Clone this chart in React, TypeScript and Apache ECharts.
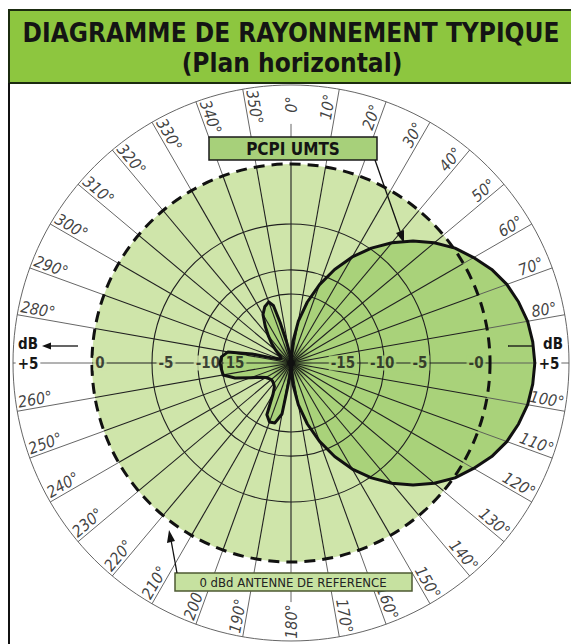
import React, { useEffect, useRef } from "react";
import * as echarts from "echarts";

// ---------- texts ----------
const TITLE_LINE_1 = "DIAGRAMME DE RAYONNEMENT TYPIQUE";
const TITLE_LINE_2 = "(Plan horizontal)";
const PATTERN_NAME = "PCPI UMTS";
const REFERENCE_NAME = "0 dBd ANTENNE DE REFERENCE";

// ---------- radial dB scale of the diagram (dB -> fraction of the outer circle) ----------
const SCALE_DB = [-40, -15, -10, -5, 0, 5];
const SCALE_R = [0, 0.248, 0.335, 0.5, 0.716, 0.928];

// ---------- grid ----------
const GRID_ANGLES = [0, 10, 20, 30, 40, 50, 60, 70, 80, 90, 100, 110, 120, 130, 140, 150, 160, 170,
  180, 190, 200, 210, 220, 230, 240, 250, 260, 270, 280, 290, 300, 310, 320, 330, 340, 350];
const ANGLE_LABELS = [0, 10, 20, 30, 40, 50, 60, 70, 80, 100, 110, 120, 130, 140, 150, 160, 170,
  180, 190, 200, 210, 220, 230, 240, 250, 260, 280, 290, 300, 310, 320, 330, 340, 350];
const GRID_RING_DB = [-15, -10, -5];
const REFERENCE_DB = [0];
const RING_LABEL_LEFT_DB = [0, -5, -10, -15];
const RING_LABEL_LEFT_TEXT = ["0", "-5", "-10", "15"];
const RING_LABEL_RIGHT_DB = [-15, -10, -5, 0];
const RING_LABEL_RIGHT_TEXT = ["-15", "-10", "-5", "-0"];

// ---------- PCPI UMTS horizontal pattern (angle in degrees, level in dB) ----------
const PATTERN_ANGLE = [
  0, 5, 10, 15, 20, 25, 30, 35, 40, 45, 50, 55, 60, 65, 70, 75, 80, 85, 90,
  95, 100, 105, 110, 115, 120, 125, 130, 135, 140, 145, 150, 155, 160, 165, 170, 175, 180,
  185, 190, 195, 200, 205, 210, 215, 220, 225, 230, 235, 240, 245, 250, 255, 260, 265, 270, 275, 280,
  283, 285, 290, 295, 300, 305, 310, 315, 320, 325, 330, 335, 340, 343, 345, 348, 352, 356, 360,
];
const PATTERN_DB = [
  -40, -32.3, -24.6, -17.1, -12.0, -8.9, -6.8, -4.9, -3.5, -2.2, -1.0, 0.1, 1.0, 1.9, 2.6, 3.1, 3.5, 3.7, 3.8,
  3.7, 3.5, 3.1, 2.6, 1.9, 1.0, 0.1, -1.0, -2.2, -3.5, -4.9, -6.8, -8.9, -12.0, -17.1, -24.6, -32.3, -40,
  -34.9, -21.2, -17.5, -17.2, -19.3, -27.0, -29.5, -30.2, -30.6, -30.6, -30.2, -29.5, -27.7, -24.4, -19.0, -15.0, -14.8, -14.6, -14.8, -16.8,
  -25.5, -32.8, -35.7, -36.0, -35.7, -34.6, -32.8, -30.2, -27.3, -23.7, -19.7, -17.5, -16.4, -18.3, -24.8, -32.0, -36.4, -38.6, -40,
];

// layout nudges (px) of the ring labels along the 270°/90° line
const LEFT_LABEL_NUDGE = [8, 14, 10, 13];
const RIGHT_LABEL_NUDGE = [-17, -2, -10, -14];

function toR(db: number): number {
  if (db <= SCALE_DB[0]) return SCALE_R[0];
  for (let i = 1; i < SCALE_DB.length; i++) {
    if (db <= SCALE_DB[i]) {
      const t = (db - SCALE_DB[i - 1]) / (SCALE_DB[i] - SCALE_DB[i - 1]);
      return SCALE_R[i - 1] + t * (SCALE_R[i] - SCALE_R[i - 1]);
    }
  }
  const n = SCALE_DB.length - 1;
  return SCALE_R[n] + ((db - SCALE_DB[n]) * (SCALE_R[n] - SCALE_R[n - 1])) / (SCALE_DB[n] - SCALE_DB[n - 1]);
}

const FONT = '"DejaVu Sans Condensed", "DejaVu Sans", sans-serif';
const DISC_GREEN = "#cfe5aa";
const LOBE_GREEN = "#a9d27a";
const INK = "#161616";

export default function App() {
  const ref = useRef<HTMLDivElement>(null);

  useEffect(() => {
    if (!ref.current) return;
    const chart = echarts.init(ref.current, undefined, { renderer: "svg" });

    const patternData = PATTERN_ANGLE.map((a, i) => [toR(PATTERN_DB[i]), a]);

    const circleItem = (api: any, fill: string, stroke: string, lineWidth: number, lineDash?: number[]) => {
      const c = api.coord([0, 0]);
      const p = api.coord([api.value(0), 0]);
      const r = Math.hypot(p[0] - c[0], p[1] - c[1]);
      return {
        type: "circle",
        shape: { cx: c[0], cy: c[1], r },
        style: { fill, stroke, lineWidth, lineDash },
      };
    };

    const angleLabelData = ANGLE_LABELS.map((a) => {
      const right = a < 180;
      const off = a === 0 || a === 180 ? 0 : right ? -1.9 : 1.9;
      const rot = right ? 90 - a : 270 - a;
      return { name: `${a}°`, value: [0.93, a + off], label: { rotate: rot } };
    });

    const ringLabelLeft = RING_LABEL_LEFT_DB.map((d, i) => ({
      name: RING_LABEL_LEFT_TEXT[i],
      value: [toR(d), 270],
      label: {
        offset: [LEFT_LABEL_NUDGE[i], 0],
        backgroundColor: d <= -15 ? LOBE_GREEN : DISC_GREEN,
      },
    }));
    const ringLabelRight = RING_LABEL_RIGHT_DB.map((d, i) => ({
      name: RING_LABEL_RIGHT_TEXT[i],
      value: [toR(d), 90],
      label: { offset: [RIGHT_LABEL_NUDGE[i], 0] },
    }));

    const ringLabelStyle = (bg: string) => ({
      show: true,
      position: "inside",
      formatter: (p: any) => p.name,
      fontFamily: FONT,
      fontSize: 15,
      fontWeight: "bold",
      color: INK,
      backgroundColor: bg,
      padding: [0, 2],
    });

    const option: any = {
      animation: false,
      polar: { center: [291, 363], radius: 278 },
      angleAxis: {
        type: "value",
        min: 0,
        max: 360,
        startAngle: 90,
        clockwise: true,
        axisLine: { show: true, lineStyle: { color: "#666", width: 1 } },
        axisTick: { show: false },
        axisLabel: { show: false },
        splitLine: { show: false },
      },
      radiusAxis: {
        type: "value",
        min: 0,
        max: 1,
        axisLine: { show: false },
        axisTick: { show: false },
        axisLabel: { show: false },
        splitLine: { show: false },
      },
      series: [
        {
          type: "custom",
          coordinateSystem: "polar",
          silent: true,
          z: 1,
          data: REFERENCE_DB.map((d) => [toR(d), 0]),
          renderItem: (_p: any, api: any) => circleItem(api, DISC_GREEN, "none", 0),
        },
        {
          type: "line",
          coordinateSystem: "polar",
          silent: true,
          z: 2,
          symbol: "none",
          data: patternData,
          lineStyle: { width: 0, opacity: 0 },
          areaStyle: { color: LOBE_GREEN, opacity: 1 },
        },
        {
          type: "custom",
          coordinateSystem: "polar",
          silent: true,
          z: 3,
          data: GRID_ANGLES.map((a) => [1, a]),
          renderItem: (_p: any, api: any) => {
            const a = api.value(1);
            const rIn = toR(0);
            const rEnd = a % 180 === 0 ? 0.86 : 1;
            const c = api.coord([0, a]);
            const m = api.coord([rIn, a]);
            const e = api.coord([rEnd, a]);
            return {
              type: "group",
              children: [
                { type: "line", shape: { x1: c[0], y1: c[1], x2: m[0], y2: m[1] }, style: { stroke: "#202020", lineWidth: 1.1 } },
                { type: "line", shape: { x1: m[0], y1: m[1], x2: e[0], y2: e[1] }, style: { stroke: "#555", lineWidth: 0.9 } },
              ],
            };
          },
        },
        {
          type: "custom",
          coordinateSystem: "polar",
          silent: true,
          z: 3,
          data: GRID_RING_DB.map((d) => [toR(d), 0]),
          renderItem: (_p: any, api: any) => circleItem(api, "none", "#202020", 1.1),
        },
        {
          type: "custom",
          coordinateSystem: "polar",
          silent: true,
          z: 3,
          data: [[0, 0]],
          renderItem: (_p: any, api: any) => {
            const c = api.coord([0, 0]);
            return {
              type: "group",
              children: [
                {
                  type: "circle",
                  shape: { cx: c[0], cy: c[1], r: 22 },
                  style: {
                    fill: {
                      type: "radial", x: 0.5, y: 0.5, r: 0.5,
                      colorStops: [
                        { offset: 0, color: "rgba(20,30,10,0.6)" },
                        { offset: 1, color: "rgba(20,30,10,0)" },
                      ],
                    },
                  },
                },
                { type: "circle", shape: { cx: c[0], cy: c[1], r: 4 }, style: { fill: "#111" } },
              ],
            };
          },
        },
        {
          type: "custom",
          coordinateSystem: "polar",
          silent: true,
          z: 4,
          data: REFERENCE_DB.map((d) => [toR(d), 0]),
          renderItem: (_p: any, api: any) => circleItem(api, "none", "#111", 3, [11, 7]),
        },
        {
          type: "scatter",
          coordinateSystem: "polar",
          silent: true,
          z: 5,
          symbolSize: 0,
          data: ringLabelLeft,
          label: ringLabelStyle(DISC_GREEN),
        },
        {
          type: "scatter",
          coordinateSystem: "polar",
          silent: true,
          z: 5,
          symbolSize: 0,
          data: ringLabelRight,
          label: ringLabelStyle(LOBE_GREEN),
        },
        {
          type: "line",
          coordinateSystem: "polar",
          silent: true,
          z: 6,
          symbol: "none",
          data: patternData,
          lineStyle: { color: "#111", width: 3, join: "round" },
        },
        {
          type: "scatter",
          coordinateSystem: "polar",
          silent: true,
          z: 7,
          symbolSize: 0,
          data: angleLabelData,
          label: {
            show: true,
            position: "inside",
            formatter: (p: any) => p.name,
            fontFamily: FONT,
            fontSize: 16,
            fontStyle: "italic",
            color: "#0e0e0e",
          },
        },
      ],
      graphic: [
        {
          type: "rect",
          z: 100,
          shape: { x: 9, y: 10, width: 570, height: 73 },
          style: { fill: "#8dc63f", stroke: "#1b2b0f", lineWidth: 2 },
        },
        { type: "line", z: 100, shape: { x1: 9, y1: 83, x2: 9, y2: 644 }, style: { stroke: "#111", lineWidth: 2 } },
        {
          type: "text", z: 101, x: 291, y: 33,
          style: { text: TITLE_LINE_1, font: `bold 26px ${FONT}`, fill: "#141414", align: "center", verticalAlign: "middle", textAlign: "center", textVerticalAlign: "middle" },
        },
        {
          type: "text", z: 101, x: 292, y: 63,
          style: { text: TITLE_LINE_2, font: `bold 26px ${FONT}`, fill: "#141414", align: "center", verticalAlign: "middle", textAlign: "center", textVerticalAlign: "middle" },
        },
        // pattern name box + arrow
        {
          type: "rect", z: 100,
          shape: { x: 209, y: 137, width: 168, height: 23 },
          style: { fill: "#a7d07a", stroke: "#1a1a1a", lineWidth: 1.5 },
        },
        {
          type: "text", z: 101, x: 293, y: 149,
          style: { text: PATTERN_NAME, font: `bold 17px ${FONT}`, fill: "#141414", align: "center", verticalAlign: "middle", textAlign: "center", textVerticalAlign: "middle" },
        },
        { type: "line", z: 100, shape: { x1: 375, y1: 160, x2: 401, y2: 234 }, style: { stroke: "#111", lineWidth: 1.3 } },
        { type: "polygon", z: 100, shape: { points: [[404, 243], [404, 230], [396, 233]] }, style: { fill: "#111" } },
        // reference box + arrow
        {
          type: "rect", z: 100,
          shape: { x: 175, y: 573, width: 237, height: 18 },
          style: { fill: "#c6e1a0", stroke: "#4d5a32", lineWidth: 1.5 },
        },
        {
          type: "text", z: 101, x: 293, y: 582,
          style: { text: REFERENCE_NAME, font: `13px ${FONT}`, fill: "#222", align: "center", verticalAlign: "middle", textAlign: "center", textVerticalAlign: "middle" },
        },
        { type: "line", z: 100, shape: { x1: 177, y1: 573, x2: 171, y2: 540 }, style: { stroke: "#111", lineWidth: 1.3 } },
        { type: "polygon", z: 100, shape: { points: [[169, 530], [175, 541], [167, 543]] }, style: { fill: "#111" } },
        // dB markers
        {
          type: "text", z: 101, x: 28, y: 344,
          style: { text: "dB", font: `bold 15px ${FONT}`, fill: INK, align: "center", verticalAlign: "middle", textAlign: "center", textVerticalAlign: "middle" },
        },
        { type: "line", z: 100, shape: { x1: 78, y1: 346, x2: 50, y2: 346 }, style: { stroke: "#111", lineWidth: 1.3 } },
        { type: "polygon", z: 100, shape: { points: [[42, 346], [51, 342.5], [51, 349.5]] }, style: { fill: "#111" } },
        {
          type: "text", z: 101, x: 28, y: 364,
          style: { text: "+5", font: `bold 15px ${FONT}`, fill: INK, backgroundColor: "#fff", padding: [0, 2], align: "center", verticalAlign: "middle", textAlign: "center", textVerticalAlign: "middle" },
        },
        { type: "line", z: 100, shape: { x1: 508, y1: 346, x2: 534, y2: 346 }, style: { stroke: "#111", lineWidth: 1.3 } },
        {
          type: "text", z: 101, x: 553, y: 344,
          style: { text: "dB", font: `bold 15px ${FONT}`, fill: INK, align: "center", verticalAlign: "middle", textAlign: "center", textVerticalAlign: "middle" },
        },
        {
          type: "text", z: 101, x: 549, y: 364,
          style: { text: "+5", font: `bold 15px ${FONT}`, fill: INK, backgroundColor: "#fff", padding: [0, 2], align: "center", verticalAlign: "middle", textAlign: "center", textVerticalAlign: "middle" },
        },
      ],
    };

    chart.setOption(option);
    return () => chart.dispose();
  }, []);

  return (
    <div
      ref={ref}
      style={{ position: "absolute", left: 0, top: 0, width: 571, height: 644, background: "#fff" }}
    />
  );
}
